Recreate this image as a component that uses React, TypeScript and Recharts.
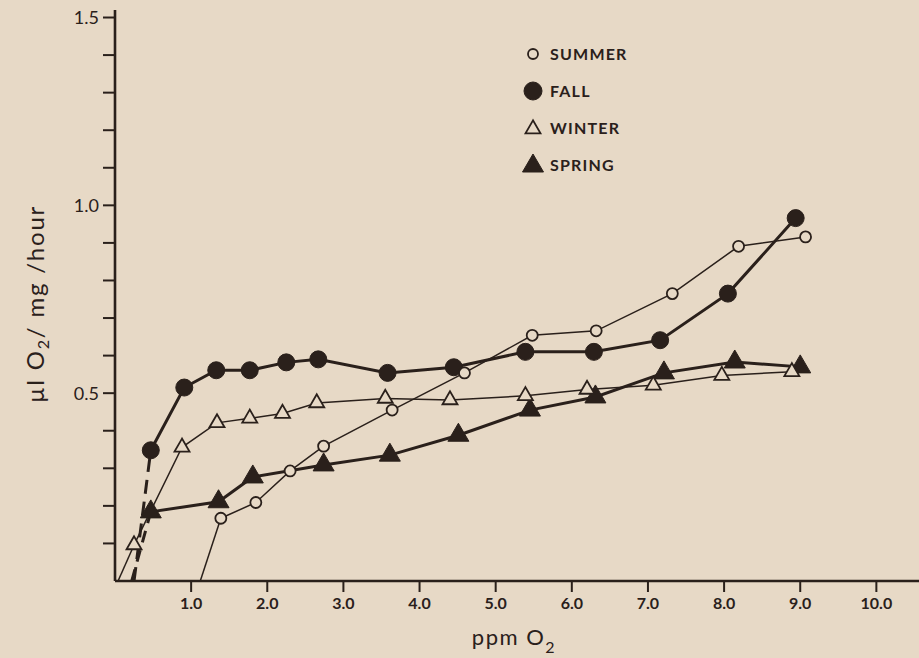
import React from 'react';
import { LineChart, Line, XAxis, YAxis, Legend, Label } from 'recharts';

// ---- data ----
const summerX = [1.39, 1.85, 2.3, 2.74, 3.64, 4.59, 5.48, 6.32, 7.32, 8.19, 9.07];
const summerY = [0.167, 0.209, 0.293, 0.359, 0.455, 0.554, 0.654, 0.666, 0.765, 0.891, 0.916];

const fallX = [0.47, 0.91, 1.33, 1.77, 2.25, 2.67, 3.58, 4.45, 5.39, 6.29, 7.16, 8.05, 8.94];
const fallY = [0.348, 0.515, 0.561, 0.561, 0.582, 0.59, 0.554, 0.569, 0.61, 0.61, 0.641, 0.765, 0.966];

const winterX = [0.25, 0.88, 1.34, 1.77, 2.2, 2.65, 3.55, 4.4, 5.39, 6.2, 7.07, 7.97, 8.89];
const winterY = [0.096, 0.356, 0.421, 0.433, 0.446, 0.474, 0.486, 0.482, 0.493, 0.51, 0.521, 0.547, 0.557];

const springX = [0.47, 1.36, 1.81, 2.74, 3.61, 4.51, 5.45, 6.31, 7.21, 8.14, 9.0];
const springY = [0.184, 0.211, 0.277, 0.309, 0.335, 0.388, 0.455, 0.49, 0.554, 0.583, 0.57];

// x-intercepts of the extrapolated starting segments
const summerStart = 1.12;
const winterStart = 0.04;
const fallStart = 0.25;
const springStart = 0.22;

const xTicks = [1, 2, 3, 4, 5, 6, 7, 8, 9, 10];
const yTicks = [0.1, 0.2, 0.3, 0.4, 0.5, 0.6, 0.7, 0.8, 0.9, 1.0, 1.1, 1.2, 1.3, 1.4, 1.5];
const legendNames = ['SUMMER', 'FALL', 'WINTER', 'SPRING'];

const pts = (xs: number[], ys: number[]) => xs.map((x, i) => ({ x, y: ys[i] }));
const summer = pts(summerX, summerY);
const fall = pts(fallX, fallY);
const winter = pts(winterX, winterY);
const spring = pts(springX, springY);
const summerExt = [{ x: summerStart, y: 0 }, summer[0]];
const winterExt = [{ x: winterStart, y: 0 }, winter[0]];
const fallExt = [{ x: fallStart, y: 0 }, fall[0]];
const springExt = [{ x: springStart, y: 0 }, spring[0]];

const BG = '#e7d9c6';
const INK = '#2a201b';
const FONT = 'Lato, "DejaVu Sans", sans-serif';

// ---- marker shapes ----
const OpenCircle = ({ cx, cy, r = 5.5 }: any) => (
  <circle cx={cx} cy={cy} r={r} fill={BG} stroke={INK} strokeWidth={1.8} />
);
const FilledCircle = ({ cx, cy, r = 8.5 }: any) => (
  <circle cx={cx} cy={cy} r={r} fill={INK} stroke={INK} strokeWidth={1} />
);
const tri = (cx: number, cy: number, w: number, h: number) =>
  `M${cx},${cy - (2 * h) / 3} L${cx - w / 2},${cy + h / 3} L${cx + w / 2},${cy + h / 3} Z`;
const OpenTri = ({ cx, cy, w = 15, h = 13 }: any) => (
  <path d={tri(cx, cy, w, h)} fill={BG} stroke={INK} strokeWidth={1.8} strokeLinejoin="miter" />
);
const FilledTri = ({ cx, cy, w = 21, h = 18 }: any) => (
  <path d={tri(cx, cy, w, h)} fill={INK} stroke={INK} strokeWidth={1} />
);

const markerFor = (name: string, cx: number, cy: number) => {
  if (name === 'SUMMER') return <OpenCircle cx={cx} cy={cy} r={5} />;
  if (name === 'FALL') return <FilledCircle cx={cx} cy={cy} r={9} />;
  if (name === 'WINTER') return <OpenTri cx={cx} cy={cy + 1} w={15} h={13} />;
  return <FilledTri cx={cx} cy={cy + 1} w={21} h={18} />;
};

const LegendBox = () => (
  <div style={{ fontFamily: FONT }}>
    {legendNames.map((n) => (
      <div key={n} style={{ display: 'flex', alignItems: 'center', height: 37 }}>
        <svg width={22} height={24} style={{ marginRight: 6 }}>
          {markerFor(n, 11, 12)}
        </svg>
        <span style={{ fontSize: 16, fontWeight: 700, letterSpacing: 1.2, color: INK }}>{n}</span>
      </div>
    ))}
  </div>
);

const YTitle = () => (
  <text
    x={34}
    y={304}
    transform="rotate(-90, 34, 304)"
    textAnchor="middle"
    dominantBaseline="central"
    fill={INK}
    fontFamily={FONT}
    fontSize={24}
    letterSpacing={1.8}
  >
    µl O<tspan dy={8} fontSize={16}>2</tspan>
    <tspan dy={-8}>/ mg /hour</tspan>
  </text>
);

const XTitle = () => (
  <text x={514} y={645} textAnchor="middle" fill={INK} fontFamily={FONT} fontSize={22} letterSpacing={1.5}>
    ppm O<tspan dy={8} fontSize={16}>2</tspan>
  </text>
);

export default function App() {
  return (
    <div style={{ position: 'fixed', left: 0, top: 0, width: 919, height: 658, background: BG }}>
      <LineChart width={919} height={658} margin={{ top: 10, right: 0, left: 0, bottom: 0 }}>
        <XAxis
          type="number"
          dataKey="x"
          domain={[0, 10.56]}
          ticks={xTicks}
          tickFormatter={(v: number) => v.toFixed(1)}
          height={77}
          allowDataOverflow
          axisLine={{ stroke: INK, strokeWidth: 2.6 }}
          tickLine={{ stroke: INK, strokeWidth: 2 }}
          tickSize={11}
          tickMargin={6}
          tick={{ fill: INK, fontSize: 16, fontFamily: FONT, fontWeight: 700 }}
        >
          <Label content={<XTitle />} />
        </XAxis>
        <YAxis
          type="number"
          dataKey="y"
          domain={[0, 1.52]}
          ticks={yTicks}
          interval={0}
          tickFormatter={(v: number) => (Math.round(v * 10) % 5 === 0 ? v.toFixed(1) : '')}
          width={115}
          allowDataOverflow
          axisLine={{ stroke: INK, strokeWidth: 2.6 }}
          tickLine={{ stroke: INK, strokeWidth: 2 }}
          tickSize={12}
          tickMargin={4}
          tick={{ fill: INK, fontSize: 18, fontFamily: FONT }}
        >
          <Label content={<YTitle />} />
        </YAxis>
        <Legend
          layout="vertical"
          align="center"
          verticalAlign="middle"
          content={<LegendBox />}
          wrapperStyle={{ position: 'absolute', left: 522, top: 35, width: 160 }}
        />
        <Line data={summerExt} dataKey="y" stroke={INK} strokeWidth={1.5} dot={false} legendType="none" isAnimationActive={false} />
        <Line data={winterExt} dataKey="y" stroke={INK} strokeWidth={1.5} dot={false} legendType="none" isAnimationActive={false} />
        <Line data={fallExt} dataKey="y" stroke={INK} strokeWidth={3} strokeDasharray="14 8" dot={false} legendType="none" isAnimationActive={false} />
        <Line data={springExt} dataKey="y" stroke={INK} strokeWidth={3} strokeDasharray="12 8" dot={false} legendType="none" isAnimationActive={false} />
        <Line
          data={spring}
          dataKey="y"
          name="SPRING"
          stroke={INK}
          strokeWidth={3}
          isAnimationActive={false}
          dot={(p: any) => <FilledTri key={`sp${p.index}`} cx={p.cx} cy={p.cy} />}
        />
        <Line
          data={fall}
          dataKey="y"
          name="FALL"
          stroke={INK}
          strokeWidth={3}
          isAnimationActive={false}
          dot={(p: any) => <FilledCircle key={`f${p.index}`} cx={p.cx} cy={p.cy} />}
        />
        <Line
          data={winter}
          dataKey="y"
          name="WINTER"
          stroke={INK}
          strokeWidth={1.5}
          isAnimationActive={false}
          dot={(p: any) => <OpenTri key={`w${p.index}`} cx={p.cx} cy={p.cy} />}
        />
        <Line
          data={summer}
          dataKey="y"
          name="SUMMER"
          stroke={INK}
          strokeWidth={1.5}
          isAnimationActive={false}
          dot={(p: any) => <OpenCircle key={`s${p.index}`} cx={p.cx} cy={p.cy} />}
        />
      </LineChart>
    </div>
  );
}
